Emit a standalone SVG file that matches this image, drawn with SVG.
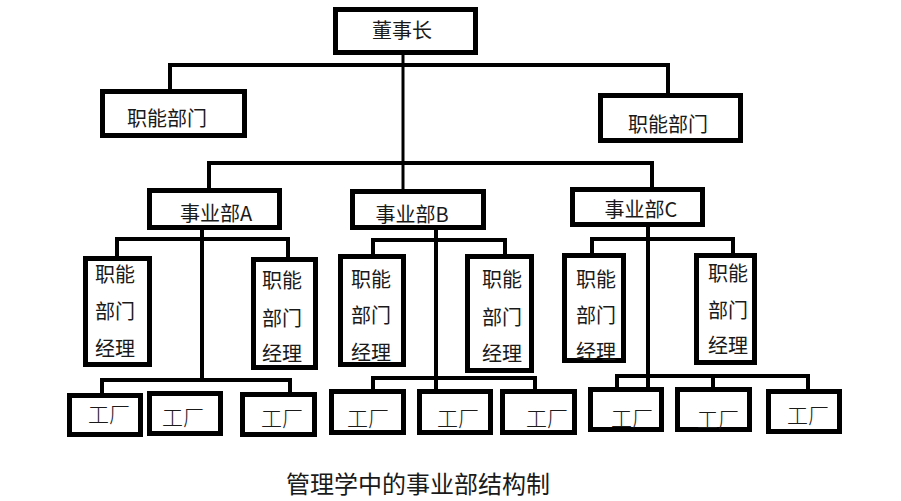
<svg xmlns="http://www.w3.org/2000/svg" width="901" height="501" viewBox="0 0 901 501">
<style>
.box{fill:#fff;stroke:#000;stroke-width:5}
.ln{fill:none;stroke:#000;stroke-width:4;stroke-linejoin:miter}
text{font-family:"Noto Sans CJK SC","Microsoft YaHei",sans-serif;font-size:20px;fill:#1a1a1a;text-anchor:middle;dominant-baseline:central}
.f{font-size:21px;font-weight:300}
.t{font-size:24px}
</style>
<rect width="901" height="501" fill="#fff"/>
<g id="connectors">
<path class="ln" d="M403 55 V189" style="stroke-width:3"/>
<path class="ln" d="M170 89 V65 H668 V93"/>
<path class="ln" d="M209 188 V163 H652 V187"/>
<path class="ln" d="M202 230 V380"/>
<path class="ln" d="M117 256 V239 H288 V257"/>
<path class="ln" d="M102 393 V380 H290 V392"/>
<path class="ln" d="M436 230 V389"/>
<path class="ln" d="M373 254 V240 H505 V254"/>
<path class="ln" d="M373 389 V378 H535 V389"/>
<path class="ln" d="M648 227 V387"/>
<path class="ln" d="M592 253 V239 H733 V253"/>
<path class="ln" d="M617 387 V376 H808 V389"/>
<path class="ln" d="M713 376 V387"/>
</g>
<g id="chairman"><rect class="box" x="335.5" y="9.5" width="140" height="43"/><text x="402" y="29">董事长</text></g>
<g id="func-left"><rect class="box" x="102.5" y="91.5" width="142" height="44"/><text x="167" y="117">职能部门</text></g>
<g id="func-right"><rect class="box" x="600.5" y="95.5" width="140" height="45"/><text x="668" y="123">职能部门</text></g>
<g id="div-a"><rect class="box" x="149.5" y="190.5" width="130" height="37"/><text x="216" y="212">事业部A</text></g>
<g id="div-b"><rect class="box" x="352.5" y="191.5" width="131" height="36"/><text x="412" y="213">事业部B</text></g>
<g id="div-c"><rect class="box" x="572.5" y="189.5" width="130" height="35"/><text x="641" y="208">事业部C</text></g>
<g id="mgr-a1"><rect class="box" x="85.5" y="258.5" width="64" height="106"/><text x="115" y="273">职能</text><text x="115" y="310">部门</text><text x="115" y="347">经理</text></g>
<g id="mgr-a2"><rect class="box" x="253.5" y="259.5" width="62" height="108"/><text x="282" y="279">职能</text><text x="282" y="317">部门</text><text x="282" y="352">经理</text></g>
<g id="mgr-b1"><rect class="box" x="340.5" y="256.5" width="63" height="108"/><text x="371" y="278">职能</text><text x="371" y="314">部门</text><text x="371" y="351">经理</text></g>
<g id="mgr-b2"><rect class="box" x="467.5" y="256.5" width="64" height="114"/><text x="502" y="278">职能</text><text x="502" y="316">部门</text><text x="502" y="352">经理</text></g>
<g id="mgr-c1"><rect class="box" x="564.5" y="255.5" width="59" height="105"/><text x="596" y="278">职能</text><text x="596" y="314">部门</text><text x="596" y="350">经理</text></g>
<g id="mgr-c2"><rect class="box" x="696.5" y="255.5" width="58" height="107"/><text x="728" y="272">职能</text><text x="728" y="309">部门</text><text x="728" y="344">经理</text></g>
<g id="fac-a1"><rect class="box" x="69.5" y="395.5" width="71" height="39"/><text class="f" x="109" y="413">工厂</text></g>
<g id="fac-a2"><rect class="box" x="149.5" y="393.5" width="71" height="40"/><text class="f" x="183" y="416">工厂</text></g>
<g id="fac-a3"><rect class="box" x="242.5" y="394.5" width="72" height="40"/><text class="f" x="282" y="417">工厂</text></g>
<g id="fac-b1"><rect class="box" x="331.5" y="391.5" width="72" height="41"/><text class="f" x="368" y="417">工厂</text></g>
<g id="fac-b2"><rect class="box" x="419.5" y="391.5" width="71" height="41"/><text class="f" x="458" y="417">工厂</text></g>
<g id="fac-b3"><rect class="box" x="502.5" y="391.5" width="72" height="41"/><text class="f" x="547" y="417">工厂</text></g>
<g id="fac-c1"><rect class="box" x="590.5" y="389.5" width="71" height="40"/><text class="f" x="632" y="417">工厂</text></g>
<g id="fac-c2"><rect class="box" x="677.5" y="389.5" width="72" height="40"/><text class="f" x="718" y="418">工厂</text></g>
<g id="fac-c3"><rect class="box" x="768.5" y="391.5" width="71" height="40"/><text class="f" x="808" y="414">工厂</text></g>
<text class="t" x="418" y="482">管理学中的事业部结构制</text>
</svg>
